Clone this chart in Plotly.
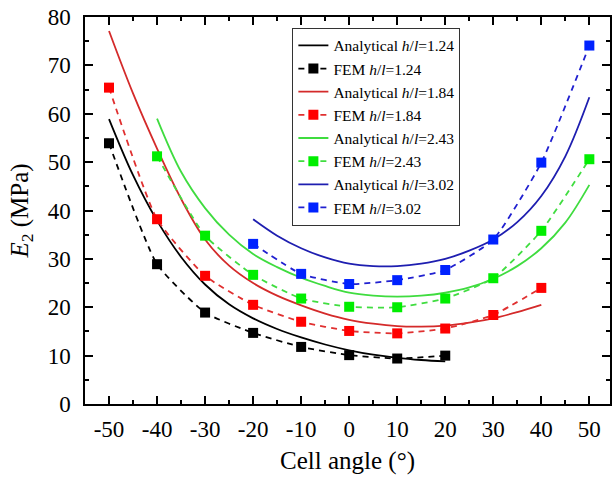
import plotly.graph_objects as go

# FEM data (cell angle in degrees, E2 in MPa)
fem_x_124 = [-50, -40, -30, -20, -10, 0, 10, 20]
fem_y_124 = [53.9, 28.9, 18.9, 14.7, 11.8, 10.1, 9.4, 10.0]

fem_x_184 = [-50, -40, -30, -20, -10, 0, 10, 20, 30, 40]
fem_y_184 = [65.4, 38.2, 26.5, 20.5, 17.0, 15.1, 14.6, 15.6, 18.4, 24.0]

fem_x_243 = [-40, -30, -20, -10, 0, 10, 20, 30, 40, 50]
fem_y_243 = [51.2, 34.8, 26.7, 21.8, 20.1, 20.0, 21.8, 26.0, 35.8, 50.6]

fem_x_302 = [-20, -10, 0, 10, 20, 30, 40, 50]
fem_y_302 = [33.1, 26.9, 24.8, 25.6, 27.7, 34.0, 49.9, 74.1]

# Analytical curves (read at 5 degree steps)
ana_x_124 = [-50, -45, -40, -35, -30, -25, -20, -15, -10, -5, 0, 5, 10, 15, 20]
ana_y_124 = [58.9, 47.3, 37.9, 30.4, 24.7, 20.6, 17.7, 15.5, 13.75, 12.3, 11.1, 10.2, 9.55, 9.1, 8.8]

ana_x_184 = [-50, -45, -40, -35, -30, -25, -20, -15, -10, -5, 0, 5, 10, 15, 20, 25, 30, 35, 40]
ana_y_184 = [77.1, 64.2, 52.8, 42.4, 34.0, 28.6, 25.0, 22.4, 20.4, 18.7, 17.4, 16.6, 16.1, 16.0, 16.2, 16.8, 17.7, 19.0, 20.5]

ana_x_243 = [-40, -35, -30, -25, -20, -15, -10, -5, 0, 5, 10, 15, 20, 25, 30, 35, 40, 45, 50]
ana_y_243 = [59.0, 48.0, 40.5, 35.0, 31.0, 28.3, 26.1, 24.4, 23.0, 22.4, 22.2, 22.4, 23.0, 24.1, 25.9, 28.5, 32.2, 37.5, 45.3]

ana_x_302 = [-20, -15, -10, -5, 0, 5, 10, 15, 20, 25, 30, 35, 40, 45, 50]
ana_y_302 = [38.2, 34.8, 32.2, 30.3, 29.0, 28.5, 28.5, 29.0, 30.0, 31.7, 34.0, 37.6, 43.0, 51.2, 63.4]

x_tickvals = [-50, -40, -30, -20, -10, 0, 10, 20, 30, 40, 50]
x_ticktext = ["-50", "-40", "-30", "-20", "-10", "0", "10", "20", "30", "40", "50"]
y_tickvals = [0, 10, 20, 30, 40, 50, 60, 70, 80]

ratios = ["1.24", "1.84", "2.43", "3.02"]
line_colors = ["#000000", "#d42a2a", "#3fdc3f", "#1e1eb0"]
marker_colors = ["#000000", "#ff0000", "#00ee00", "#0022ff"]
dash_colors = ["#000000", "#e03030", "#40dd40", "#2020d0"]

ana = [(ana_x_124, ana_y_124), (ana_x_184, ana_y_184), (ana_x_243, ana_y_243), (ana_x_302, ana_y_302)]
fem = [(fem_x_124, fem_y_124), (fem_x_184, fem_y_184), (fem_x_243, fem_y_243), (fem_x_302, fem_y_302)]

FONT = "Liberation Serif, Times New Roman, serif"

fig = go.Figure()
for i, r in enumerate(ratios):
    ax, ay = ana[i]
    fx, fy = fem[i]
    fig.add_trace(go.Scatter(
        x=ax, y=ay, mode="lines",
        line=dict(color=line_colors[i], width=1.8, shape="spline", smoothing=1.0),
        name=f"Analytical <i>h</i>/<i>l</i>={r}",
    ))
    fig.add_trace(go.Scatter(
        x=fx, y=fy, mode="lines+markers",
        line=dict(color=dash_colors[i], width=1.8, dash="6px,5px", shape="spline", smoothing=0.5),
        marker=dict(symbol="square", size=10, color=marker_colors[i]),
        name=f"FEM <i>h</i>/<i>l</i>={r}",
    ))

axis_common = dict(
    showgrid=False, zeroline=False,
    showline=True, linecolor="#000000", linewidth=1.5, mirror="ticks",
    ticks="inside", ticklen=8, tickwidth=1.5, tickcolor="#000000",
    tickfont=dict(family=FONT, size=23, color="#000000"),
)

fig.update_xaxes(
    range=[-55, 54.3], tickvals=x_tickvals, ticktext=x_ticktext,
    ticklabelstandoff=4,
    minor=dict(ticks="inside", ticklen=4, tickwidth=1.5, tickcolor="#000000", dtick=5, tick0=0, showgrid=False),
    title=dict(text="Cell angle (°)", font=dict(family=FONT, size=25, color="#000000"), standoff=10),
    **axis_common,
)
fig.update_yaxes(
    range=[0, 80], tickvals=y_tickvals,
    ticklabelstandoff=8,
    minor=dict(ticks="inside", ticklen=4, tickwidth=1.5, tickcolor="#000000", dtick=5, tick0=0, showgrid=False),
    title=dict(text="<i>E</i><sub>2</sub> (MPa)", font=dict(family=FONT, size=25, color="#000000"), standoff=12),
    **axis_common,
)

fig.update_layout(
    width=612, height=477,
    margin=dict(l=85, r=0, t=17, b=73),
    paper_bgcolor="white", plot_bgcolor="white",
    font=dict(family=FONT, color="#000000"),
    legend=dict(
        x=0.395, y=0.972, xanchor="left", yanchor="top",
        bgcolor="white", bordercolor="#333333", borderwidth=1,
        font=dict(family=FONT, size=15.5, color="#000000"),
        tracegroupgap=0, itemwidth=30,
    ),
    showlegend=True,
)

fig.write_html("out.html")
